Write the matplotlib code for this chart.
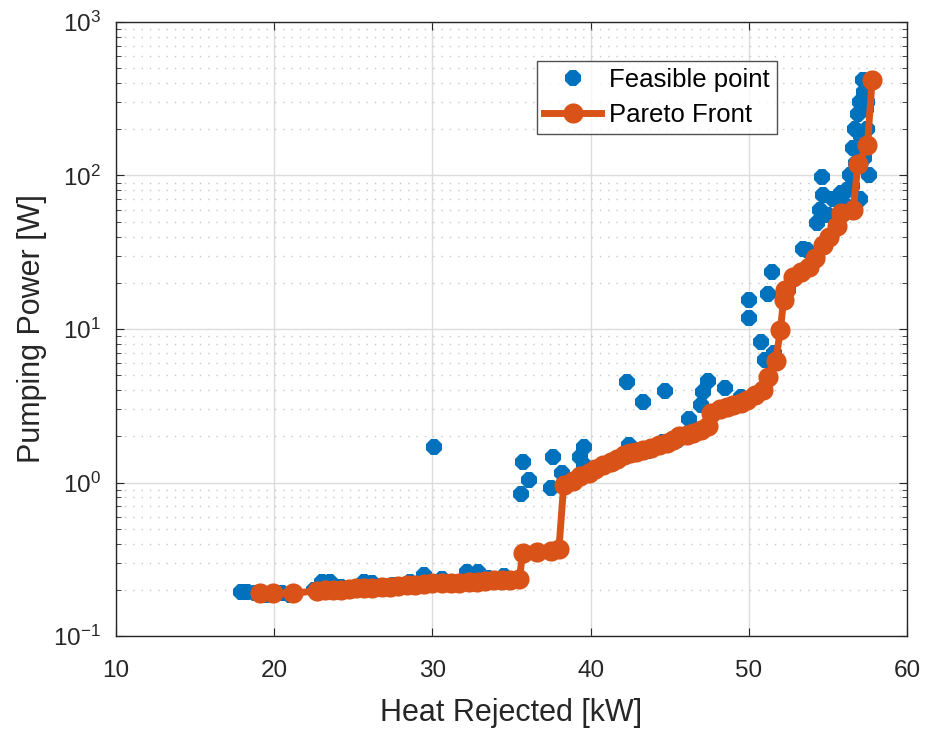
import matplotlib
matplotlib.use("Agg")
import matplotlib.pyplot as plt
from matplotlib.ticker import LogLocator, NullFormatter

plt.rcParams['font.family'] = ['Liberation Sans', 'DejaVu Sans']
plt.rcParams['mathtext.fontset'] = 'custom'
plt.rcParams['mathtext.rm'] = 'Liberation Sans'
plt.rcParams['axes.unicode_minus'] = False

# Feasible design points: heat rejected [kW], pumping power [W]
feasible_q = [17.9, 18.3, 18.8, 19.5, 20.5, 21.0, 22.5, 23.0, 23.5, 24.2,
              25.7, 26.2, 27.5, 28.6, 29.5, 30.1, 30.6, 31.0, 32.2, 32.9,
              33.5, 34.5, 35.6, 36.1, 35.7, 37.5, 37.6, 38.2, 38.4, 39.3,
              39.6, 39.6, 40.3, 41.0, 41.5, 42.3, 42.4, 43.3, 43.6, 44.7,
              44.6, 45.5, 46.2, 47.0, 47.1, 47.4, 48.5, 47.8, 49.5, 50.0,
              50.0, 50.8, 51.0, 51.2, 51.5, 51.6, 52.5, 53.0, 53.4, 53.7,
              54.2, 54.3, 54.5, 54.6, 54.7, 55.0, 55.3, 55.8, 55.5, 56.0,
              56.2, 56.4, 56.6, 56.7, 56.9, 57.0, 57.2, 56.8, 57.1, 57.3,
              57.4, 57.5, 57.3, 57.6, 57.0, 56.5, 57.5, 57.7]
feasible_p = [0.195, 0.195, 0.19, 0.185, 0.19, 0.185, 0.2, 0.225, 0.225, 0.21,
              0.225, 0.22, 0.215, 0.225, 0.25, 1.7, 0.235, 0.225, 0.26, 0.26,
              0.24, 0.245, 0.84, 1.04, 1.37, 0.92, 1.47, 1.15, 1.0, 1.47,
              1.7, 1.3, 1.2, 1.3, 1.35, 4.5, 1.75, 3.35, 1.6, 3.95,
              1.85, 1.9, 2.6, 3.2, 3.9, 4.6, 4.1, 2.9, 3.6, 15.5,
              11.8, 8.2, 6.3, 17.0, 23.5, 7.0, 18.0, 22.0, 33.0, 32.7,
              28.0, 49.0, 60.0, 98.0, 75.0, 55.0, 70.0, 77.0, 45.0, 65.0,
              80.0, 100.0, 150.0, 200.0, 250.0, 300.0, 420.0, 120.0, 180.0, 350.0,
              270.0, 200.0, 130.0, 100.0, 70.0, 85.0, 300.0, 420.0]

# Non-dominated designs (Pareto front)
pareto_q = [19.1, 19.9, 21.2, 22.7, 23.2, 23.7, 24.2, 24.7, 25.2, 25.7,
            26.2, 26.8, 27.3, 27.8, 28.4, 28.9, 29.5, 30.0, 30.6, 31.2,
            31.7, 32.3, 32.8, 33.3, 33.9, 34.4, 34.9, 35.5, 35.7, 36.6,
            37.5, 38.0, 38.3, 38.9, 39.3, 39.9, 40.3, 40.8, 41.3, 41.7,
            42.1, 42.5, 42.9, 43.3, 43.8, 44.3, 44.8, 45.2, 45.6, 46.1,
            46.5, 47.0, 47.4, 47.6, 48.2, 48.6, 49.0, 49.5, 49.9, 50.4,
            50.9, 51.2, 51.7, 52.0, 52.2, 52.3, 52.8, 53.3, 53.8, 54.2,
            54.7, 55.1, 55.6, 55.8, 56.6, 56.9, 57.5, 57.8]
pareto_p = [0.19, 0.19, 0.19, 0.197, 0.198, 0.2, 0.2, 0.202, 0.204, 0.205,
            0.207, 0.208, 0.21, 0.212, 0.214, 0.216, 0.218, 0.22, 0.221, 0.222,
            0.223, 0.225, 0.226, 0.228, 0.23, 0.231, 0.233, 0.235, 0.345, 0.355,
            0.36, 0.37, 0.96, 1.02, 1.1, 1.15, 1.22, 1.3, 1.36, 1.42,
            1.5, 1.55, 1.58, 1.62, 1.68, 1.75, 1.82, 1.9, 2.0, 2.05,
            2.1, 2.2, 2.35, 2.85, 3.0, 3.1, 3.2, 3.3, 3.45, 3.7,
            4.0, 4.9, 6.2, 9.8, 15.5, 18.0, 21.8, 23.5, 25.5, 29.0,
            35.0, 40.0, 47.0, 57.0, 60.0, 118.0, 158.0, 420.0]

blue = '#0072BD'
orange = '#D95319'
axis_col = '#262626'

fig = plt.figure(figsize=(9.25, 7.33), dpi=100)
ax = fig.add_axes([0.1254, 0.1323, 0.8551, 0.8377])

ax.plot(feasible_q, feasible_p, linestyle='none', marker='8', markersize=12.5,
        color=blue, markeredgewidth=0, label='Feasible point', zorder=3)
ax.plot(pareto_q, pareto_p, linestyle='-', linewidth=5, marker='o',
        markersize=14.5, color=orange, markeredgewidth=0, label='Pareto Front',
        zorder=4)

ax.set_yscale('log')
ax.set_xlim(10, 60)
ax.set_ylim(0.1, 1000)
ax.set_xticks([10, 20, 30, 40, 50, 60])
ax.set_yticks([0.1, 1, 10, 100, 1000])
ax.set_yticklabels([r'$\mathregular{10^{-1}}$', r'$\mathregular{10^{0}}$',
                    r'$\mathregular{10^{1}}$', r'$\mathregular{10^{2}}$',
                    r'$\mathregular{10^{3}}$'])
ax.yaxis.set_minor_locator(LogLocator(base=10, subs=range(2, 10), numticks=20))
ax.yaxis.set_minor_formatter(NullFormatter())

ax.grid(True, which='major', color='#dcdcdc', linewidth=1.0, linestyle='-', zorder=0)
ax.grid(True, which='minor', axis='y', color='#c8c8c8', linewidth=1.0,
        linestyle=(0, (1, 5)), zorder=0)
ax.set_axisbelow(True)

ax.tick_params(axis='both', which='both', direction='in', top=True, right=True,
               colors=axis_col, labelcolor=axis_col, labelsize=17.5)
ax.tick_params(which='major', length=6, width=0.8)
ax.tick_params(which='minor', length=3.5, width=0.6)
ax.tick_params(axis='x', pad=17)
ax.tick_params(axis='y', pad=11)
for s in ax.spines.values():
    s.set_color(axis_col)
    s.set_linewidth(1.0)

ax.set_xlabel('Heat Rejected [kW]', fontsize=22, color=axis_col, labelpad=12)
ax.set_ylabel('Pumping Power [W]', fontsize=22, color=axis_col, labelpad=4)

leg = ax.legend(loc='upper left', bbox_to_anchor=(0.532, 0.937), fontsize=18.5,
                frameon=True, fancybox=False, edgecolor=axis_col,
                handlelength=2.2, borderpad=0.3, labelspacing=0.4,
                handletextpad=0.3, borderaxespad=0, markerscale=1.0)
leg.get_frame().set_linewidth(1.0)

fig.savefig('out.png', dpi=100)
